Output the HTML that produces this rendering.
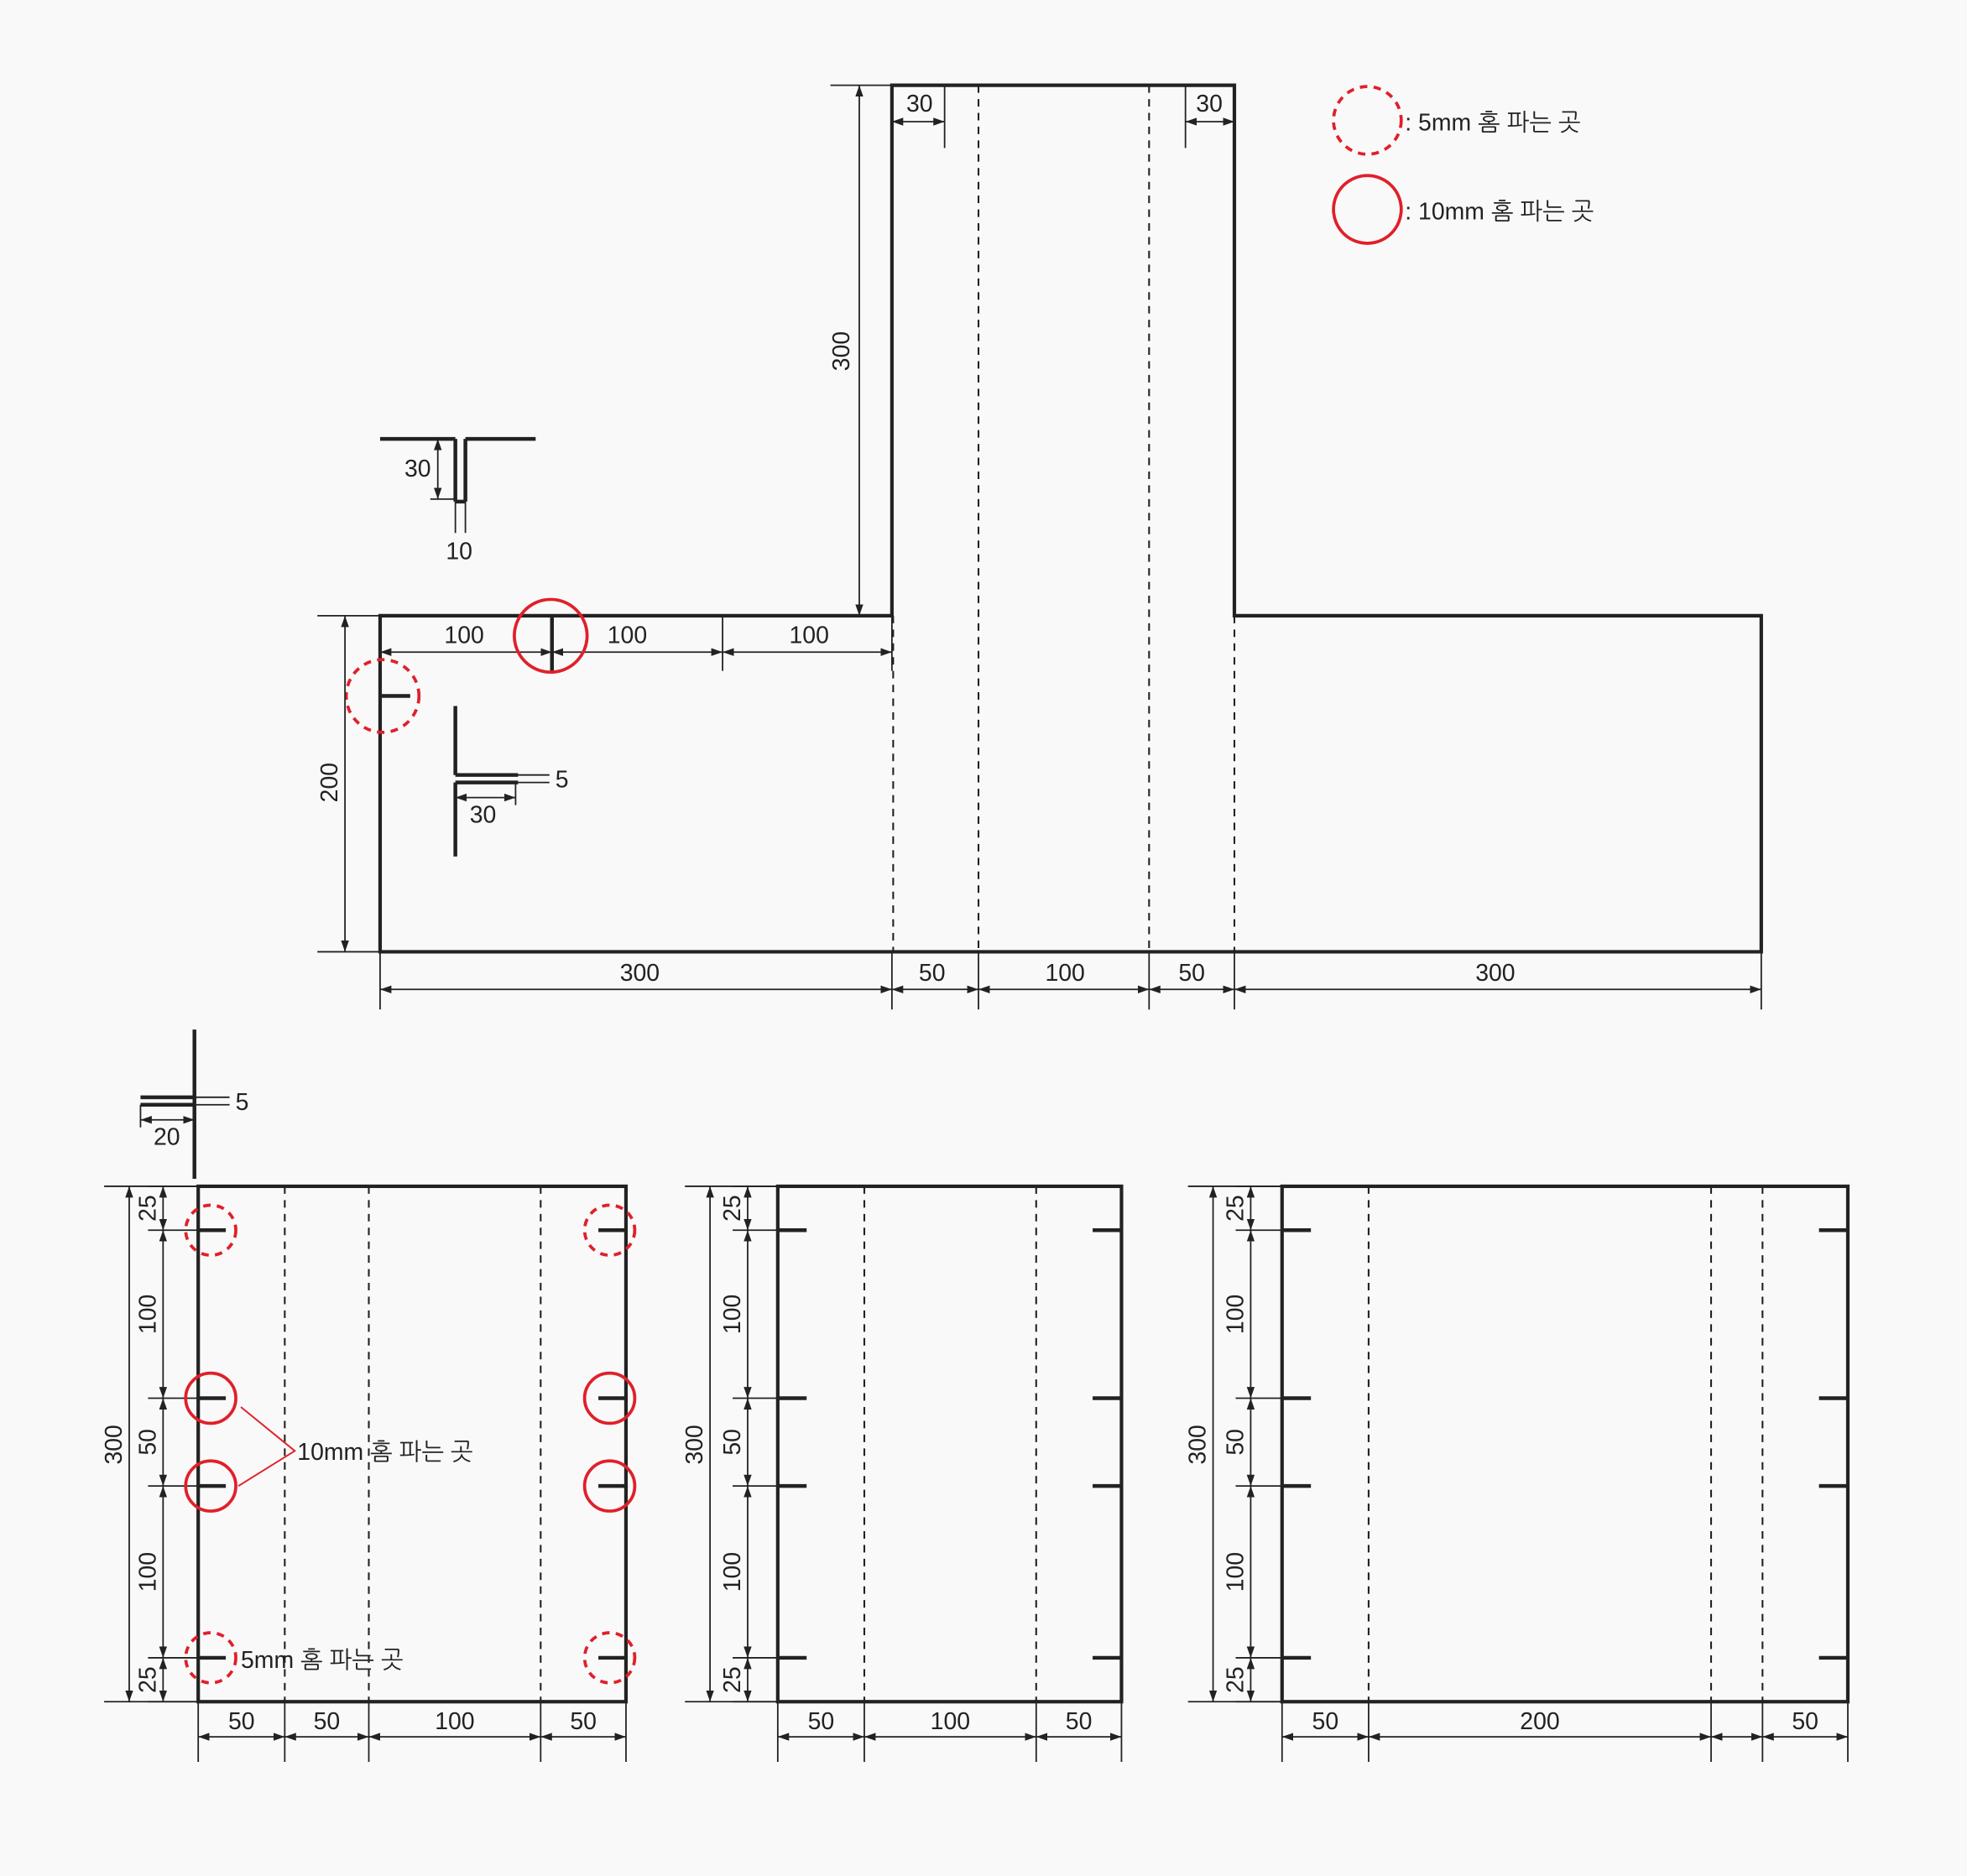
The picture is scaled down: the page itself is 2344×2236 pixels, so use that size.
<!DOCTYPE html>
<html><head><meta charset="utf-8"><style>
html,body{margin:0;padding:0;background:#f9f9f9;}
svg{display:block}
text{font-family:"Liberation Sans","NanumGothic","Noto Sans CJK KR",sans-serif;fill:#222;font-size:19px;}
</style></head><body>
<svg id="s" width="2344" height="2236" viewBox="0 0 1568 1496" preserveAspectRatio="none" xmlns="http://www.w3.org/2000/svg">
<defs>
<marker id="a" viewBox="0 0 10 10" refX="10" refY="5" markerWidth="9" markerHeight="9" orient="auto-start-reverse" markerUnits="userSpaceOnUse"><path d="M0,1.5 L10,5 L0,8.5 z" fill="#222"/></marker>
</defs>
<rect width="1568" height="1496" fill="#f9f9f9"/>
<g id="g" stroke="#222" fill="none"></g>
</svg>
<script>
const g=document.getElementById('g'),S=document.getElementById('s');
const NS='http://www.w3.org/2000/svg';
function el(t,a,p){const e=document.createElementNS(NS,t);for(const k in a)e.setAttribute(k,a[k]);(p||g).appendChild(e);return e;}
function L(x1,y1,x2,y2,w,da){const a={x1,y1,x2,y2,'stroke-width':w||1.2};if(da)a['stroke-dasharray']=da;el('line',a);}
function A(x1,y1,x2,y2){el('line',{x1,y1,x2,y2,'stroke-width':1.2,'marker-start':'url(#a)','marker-end':'url(#a)'});}
function T(x,y,s,rot,anchor){const a={x,y,'text-anchor':anchor||'middle'};if(rot)a.transform=`rotate(-90 ${x} ${y})`;const e=el('text',a,S);e.textContent=s;}
function C(cx,cy,r,dash){const a={cx,cy,r,stroke:'#e0202a','stroke-width':2.5,fill:'none'};if(dash)a['stroke-dasharray']='6 5';el('circle',a);}
const TH=2.8,DS='6 5';
// top shape
el('polygon',{points:'303,491 711,491 711,68 984,68 984,491 1404,491 1404,759 303,759','stroke-width':TH});
L(780,68,780,759,1.4,DS);L(916,68,916,759,1.4,DS);L(712,491,712,759,1.4,DS);L(984,491,984,759,1.4,DS);
// 300 vertical
L(662,68,711,68);A(685,68,685,491);T(677,280,'300',1);
// 30s
L(753,68,753,118);A(711,97,753,97);T(733,89,'30');
L(945,68,945,118);A(945,97,984,97);T(964,89,'30');
// 100s
L(576,491,576,535);L(303,491,303,535);L(711,491,711,535);
A(303,520,440,520);A(440,520,576,520);A(576,520,711,520);
T(370,513,'100');T(500,513,'100');T(645,513,'100');
L(440,491,440,535,3);C(439,507,29);
C(305,555,29,1);L(303,555,327,555,3);
// 200
L(253,491,303,491);L(253,759,303,759);A(275,491,275,759);T(269,624,'200',1);
// bottom dims
[303,711,780,916,984,1404].forEach(x=>L(x,759,x,805));
A(303,789,711,789);A(711,789,780,789);A(780,789,916,789);A(916,789,984,789);A(984,789,1404,789);
T(510,782,'300');T(743,782,'50');T(849,782,'100');T(950,782,'50');T(1192,782,'300');
// T detail
L(303,350,363,350,3);L(371,350,427,350,3);L(363,350,363,400,3);L(371,350,371,400,3);L(363,400,371,400,3);
L(343,398,363,398);A(349,350,349,398);T(333,380,'30');
L(363,400,363,425);L(371,400,371,425);T(366,446,'10');
// L detail
L(363,563,363,618,3);L(363,624,363,683,3);L(363,618,413,618,3);L(363,624,413,624,3);
L(413,618,438,618);L(413,624,438,624);L(411,624,411,642);T(448,628,'5');
A(363,636,411,636);T(385,656,'30');
// small bottom detail
L(155,821,155,940,3);L(112,875,155,875,3);L(112,881,155,881,3);L(155,875,183,875);L(155,881,183,881);L(112,881,112,899);
T(193,885,'5');A(112,893,155,893);T(133,913,'20');
// panels
const ys=[946,981,1115,1185,1322,1357],lab=['25','100','50','100','25'];
function panel(x0,x1,dashes,nw,dcx,ox,bx,blabs,circles){
  el('rect',{x:x0,y:946,width:x1-x0,height:411,'stroke-width':TH});
  dashes.forEach(x=>L(x,946,x,1357,1.4,DS));
  [981,1115,1185,1322].forEach(y=>{L(x0,y,x0+nw,y,3);L(x1-nw,y,x1,y,3);});
  ys.forEach(y=>L(dcx-12,y,x0,y));
  for(let i=0;i<5;i++){A(dcx,ys[i],dcx,ys[i+1]);T(dcx-6,(ys[i]+ys[i+1])/2,lab[i],1);}
  L(ox-20,946,x0,946);L(ox-20,1357,x0,1357);A(ox,946,ox,1357);T(ox-6,1152,'300',1);
  bx.forEach(x=>L(x,1357,x,1405));
  for(let i=0;i<bx.length-1;i++){A(bx[i],1385,bx[i+1],1385);if(blabs[i])T((bx[i]+bx[i+1])/2,1379,blabs[i]);}
  if(circles){[[981,1],[1115,0],[1185,0],[1322,1]].forEach(([y,d])=>{C(168,y,20,d);C(486,y,20,d);});}
}
panel(158,499,[227,294,431],22,130,103,[158,227,294,431,499],['50','50','100','50'],true);
panel(620,894,[689,826],23,596,566,[620,689,826,894],['50','100','50']);
panel(1022,1473,[1091,1364,1405],23,997,967,[1022,1091,1364,1405,1473],['50','200','','50']);
el('polyline',{points:'192,1122 235,1157 190,1185',stroke:'#e0202a','stroke-width':1.3,fill:'none'});
T(237,1164,'10mm 홈 파는 곳',0,'start');T(192,1330,'5mm 홈 파는 곳',0,'start');
// legend
C(1090,96,27,1);C(1090,167,27);
T(1120,104,': 5mm 홈 파는 곳',0,'start');T(1120,175,': 10mm 홈 파는 곳',0,'start');
</script>
</body></html>
